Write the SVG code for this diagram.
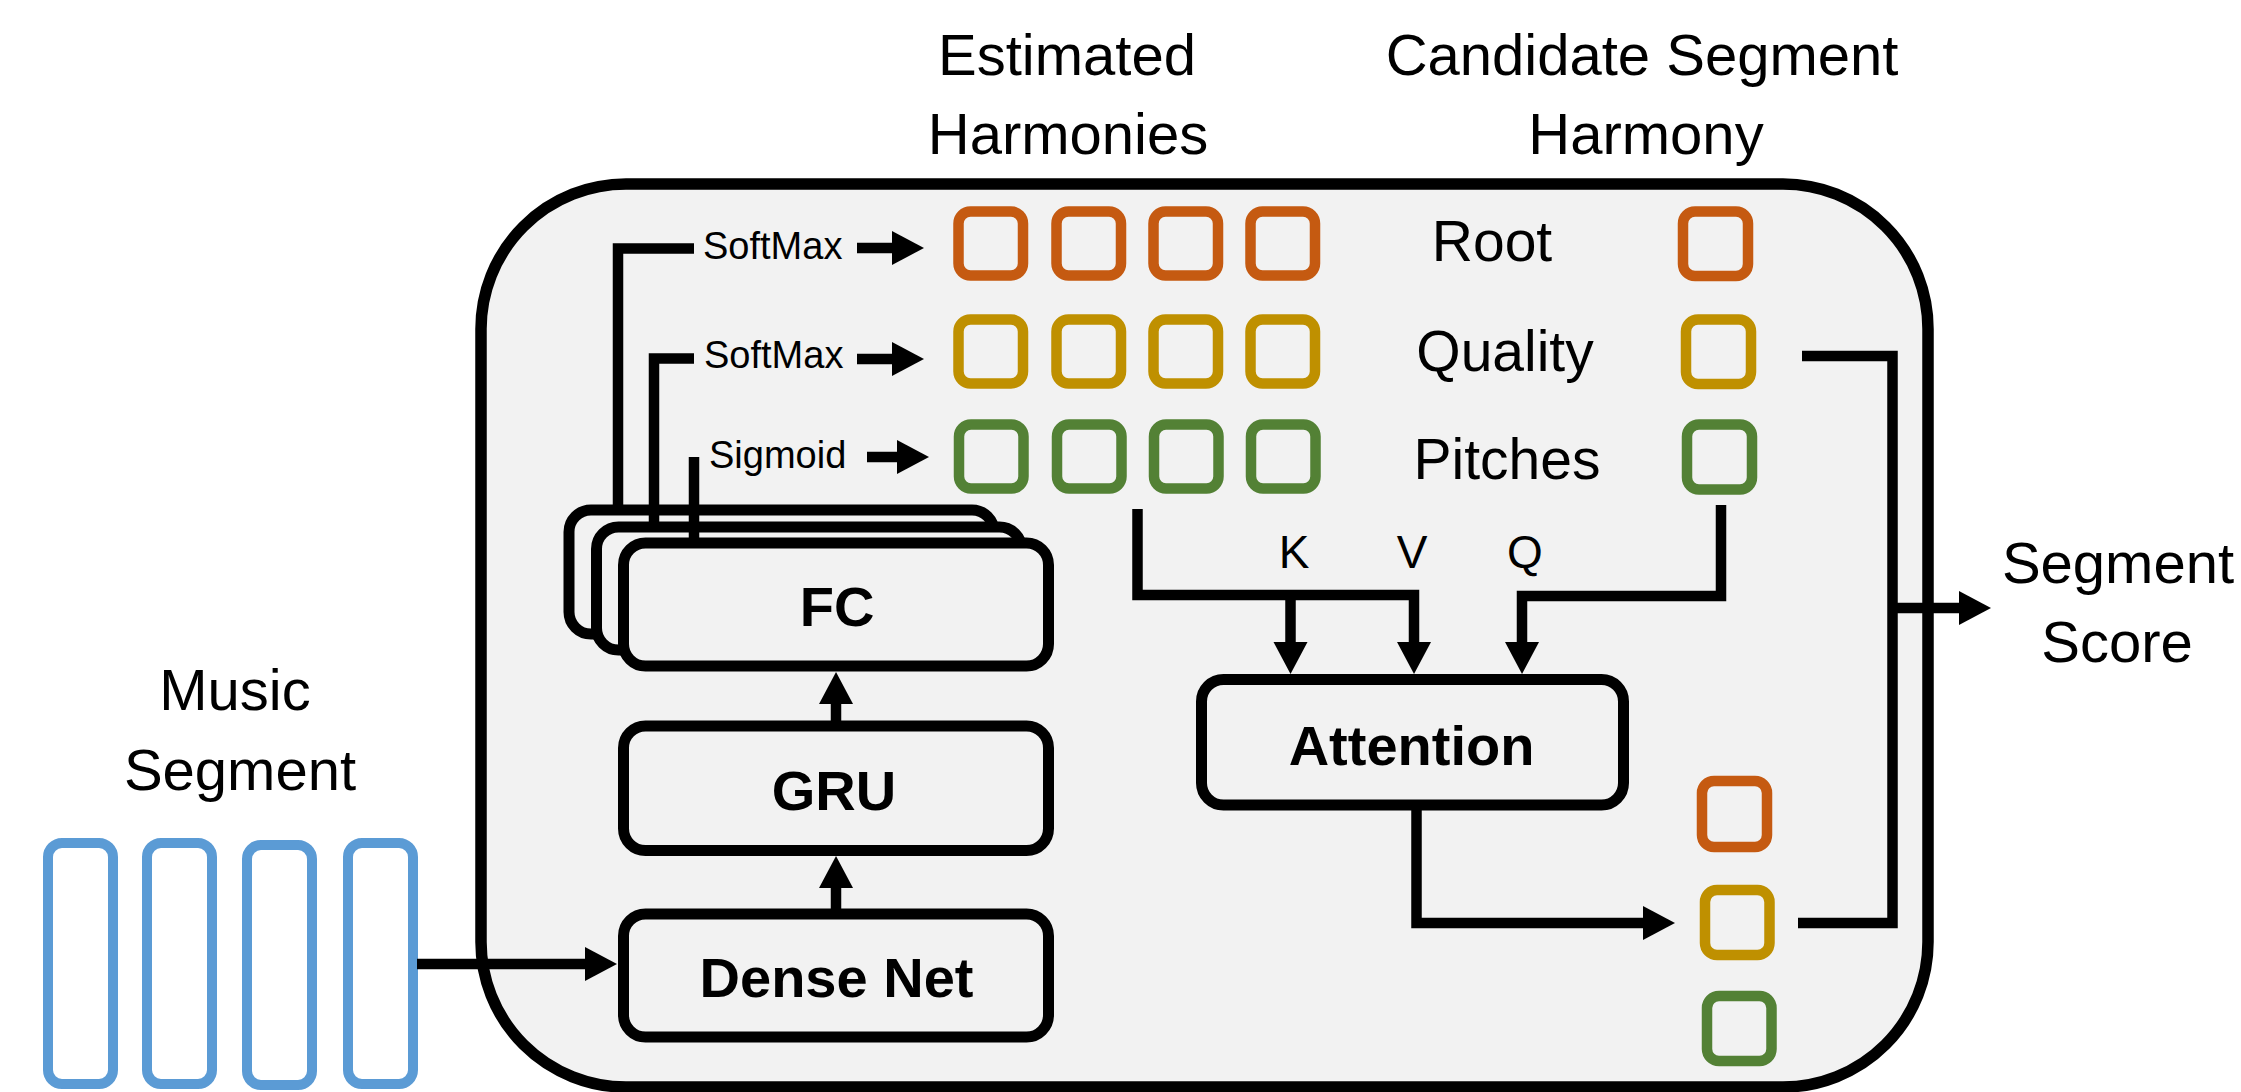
<svg xmlns="http://www.w3.org/2000/svg" width="2241" height="1092" viewBox="0 0 2241 1092">
<defs>
<style>
text{font-family:"Liberation Sans",Arial,sans-serif;fill:#000}
.lbl{font-size:58px;text-anchor:middle}
.row{font-size:57px;text-anchor:middle}
.act{font-size:38px}
.kvq{font-size:46px;text-anchor:middle}
.bx{fill:#F2F2F2;stroke:#000;stroke-width:11}
.bt{font-size:56px;font-weight:bold;text-anchor:middle}
.sq{fill:none;stroke-width:10.5}
.o{stroke:#C55A11}.y{stroke:#BF9000}.g{stroke:#538135}
.bar{fill:#fff;stroke:#5B9BD5;stroke-width:10}
.ln{fill:none;stroke:#000;stroke-width:10.5;stroke-linejoin:miter;stroke-linecap:butt}
.ar{marker-end:url(#ah)}
</style>
<marker id="ah" markerUnits="userSpaceOnUse" markerWidth="34" markerHeight="36" refX="0" refY="17" orient="auto" overflow="visible">
<path d="M0,0 L32,17 L0,34 Z" fill="#000"/>
</marker>
</defs>
<rect width="2241" height="1092" fill="#fff"/>

<g id="container">
<rect x="481" y="184" width="1447" height="903" rx="145" ry="145" fill="#F2F2F2" stroke="#000" stroke-width="11.5"/>
</g>

<g id="titles">
<text class="lbl" x="1067" y="75">Estimated</text>
<text class="lbl" x="1068" y="154">Harmonies</text>
<text class="lbl" x="1642" y="75">Candidate Segment</text>
<text class="lbl" x="1646" y="154">Harmony</text>
</g>

<g id="music-segment">
<text class="lbl" x="235" y="710">Music</text>
<text class="lbl" x="240" y="790">Segment</text>
<rect class="bar" x="48" y="843" width="65" height="241" rx="14"/>
<rect class="bar" x="147" y="843" width="65" height="241" rx="14"/>
<rect class="bar" x="247" y="845" width="65" height="240" rx="14"/>
<rect class="bar" x="348" y="843" width="65" height="241" rx="14"/>
</g>

<g id="fc-back">
<rect class="bx" x="569" y="510" width="425" height="124" rx="22"/>
<rect class="bx" x="596.5" y="527" width="425" height="123" rx="22"/>
</g>

<g id="connectors">
<polyline class="ln" points="618,510 618,248.5 694,248.5"/>
<polyline class="ln" points="654,527 654,358.5 694,358.5"/>
<polyline class="ln" points="694,457 694,543"/>
<line class="ln ar" x1="857" y1="248" x2="892" y2="248"/>
<line class="ln ar" x1="857" y1="359" x2="892" y2="359"/>
<line class="ln ar" x1="867" y1="457" x2="897" y2="457"/>
<line class="ln ar" x1="836" y1="721" x2="836" y2="704"/>
<line class="ln ar" x1="836" y1="909" x2="836" y2="888"/>
<line class="ln ar" x1="417" y1="964" x2="585" y2="964"/>
<polyline class="ln ar" points="1137.5,509 1137.5,595 1414,595 1414,642"/>
<line class="ln ar" x1="1290.5" y1="595" x2="1290.5" y2="642"/>
<polyline class="ln ar" points="1721,505 1721,596 1522,596 1522,642"/>
<polyline class="ln ar" points="1416.5,805 1416.5,923 1643,923"/>
<polyline class="ln" points="1802,356 1892.5,356 1892.5,923 1798,923"/>
<line class="ln ar" x1="1892.5" y1="608" x2="1959" y2="608"/>
</g>

<g id="fc">
<rect class="bx" x="623.5" y="543" width="425" height="123" rx="22"/>
<text class="bt" x="837" y="626">FC</text>
</g>
<g id="gru">
<rect class="bx" x="623.5" y="726" width="425" height="124.5" rx="22"/>
<text class="bt" x="834" y="810">GRU</text>
</g>
<g id="dense-net">
<rect class="bx" x="623.5" y="914" width="425" height="123" rx="22"/>
<text class="bt" x="836.5" y="997">Dense Net</text>
</g>
<g id="attention">
<rect class="bx" x="1201.5" y="679.5" width="422" height="125.5" rx="22"/>
<text class="bt" x="1411.5" y="765">Attention</text>
</g>

<g id="activations">
<text class="act" x="703" y="259">SoftMax</text>
<text class="act" x="704" y="368">SoftMax</text>
<text class="act" x="709" y="468">Sigmoid</text>
</g>

<g id="estimated-harmonies">
<rect class="sq o" x="958.5" y="211.5" width="64.5" height="64" rx="12"/>
<rect class="sq o" x="1056.5" y="211.5" width="64.5" height="64" rx="12"/>
<rect class="sq o" x="1153.5" y="211.5" width="64.5" height="64" rx="12"/>
<rect class="sq o" x="1250.5" y="211.5" width="64.5" height="64" rx="12"/>
<rect class="sq y" x="958.5" y="319.5" width="64.5" height="64" rx="12"/>
<rect class="sq y" x="1056.5" y="319.5" width="64.5" height="64" rx="12"/>
<rect class="sq y" x="1153.5" y="319.5" width="64.5" height="64" rx="12"/>
<rect class="sq y" x="1250.5" y="319.5" width="64.5" height="64" rx="12"/>
<rect class="sq g" x="959" y="424.5" width="64.5" height="64" rx="12"/>
<rect class="sq g" x="1057" y="424.5" width="64.5" height="64" rx="12"/>
<rect class="sq g" x="1154" y="424.5" width="64.5" height="64" rx="12"/>
<rect class="sq g" x="1251" y="424.5" width="64.5" height="64" rx="12"/>
</g>

<g id="row-labels">
<text class="row" x="1492" y="261">Root</text>
<text class="row" x="1505" y="371">Quality</text>
<text class="row" x="1507" y="479">Pitches</text>
</g>

<g id="candidate-harmony">
<rect class="sq o" x="1683" y="211.5" width="65" height="64.5" rx="12"/>
<rect class="sq y" x="1686" y="319.5" width="65" height="64.5" rx="12"/>
<rect class="sq g" x="1687" y="424.5" width="65" height="65" rx="12"/>
</g>

<g id="kvq-labels">
<text class="kvq" x="1294" y="568">K</text>
<text class="kvq" x="1412" y="568">V</text>
<text class="kvq" x="1525" y="568">Q</text>
</g>

<g id="attended-harmony">
<rect class="sq o" x="1702" y="781" width="65" height="66" rx="12"/>
<rect class="sq y" x="1705" y="890" width="64.5" height="65" rx="12"/>
<rect class="sq g" x="1707" y="996" width="64.5" height="65" rx="12"/>
</g>

<g id="segment-score">
<text class="lbl" x="2118" y="583">Segment</text>
<text class="lbl" x="2117" y="662">Score</text>
</g>
</svg>
